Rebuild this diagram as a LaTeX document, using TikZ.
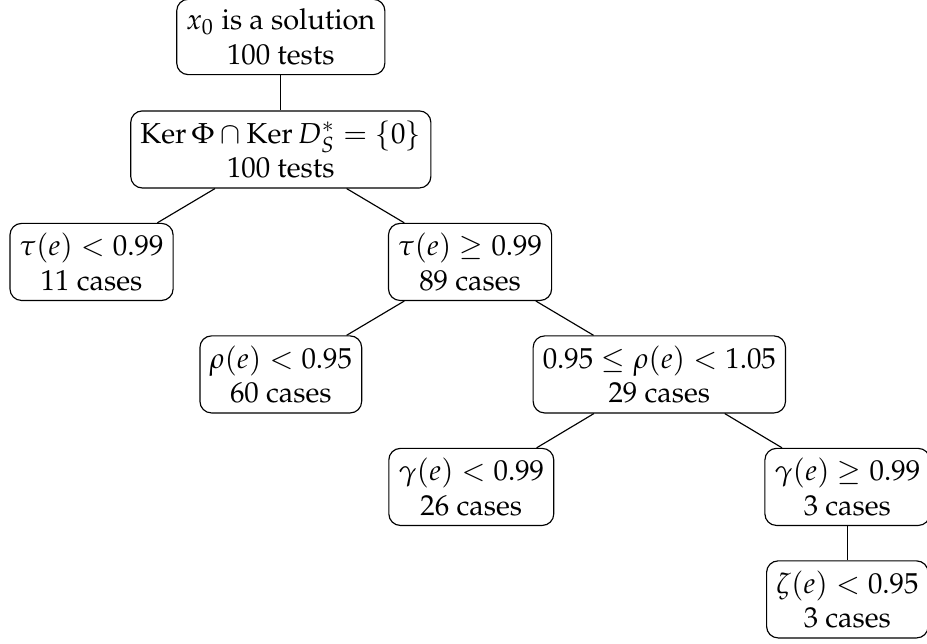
\documentclass[tikz,border=0pt]{standalone}
\usepackage[T1]{fontenc}
\usepackage{amssymb}
\usepackage{amsmath}
\usepackage{mathpazo}
\usetikzlibrary{positioning}

\begin{document}
\begin{tikzpicture}[node distance={1.37cm and 2.305cm}, on grid, main/.style = {draw, rectangle, rounded corners, align=center}]
    \useasboundingbox (-3.42,0.45) rectangle (7.87,-7.39);
    \node[main] (1) {$x_0$ is a solution\\100 tests};
    \node[main] (2) [below=of 1] {$\operatorname{Ker}\Phi \cap \operatorname{Ker} D_S^* = \{0\}$\\100 tests};
    \node[main] (3) [below left=of 2] {$\tau(e) < 0.99$\\11 cases};
    \node[main] (4) [below right=of 2] {$\tau(e) \geq 0.99$\\89 cases};
    \node[main] (5) [below left=of 4] {$\rho(e) < 0.95$\\60 cases};
    \node[main] (6) [below right=of 4] {$0.95 \leq \rho(e) < 1.05$\\29 cases};
    \node[main] (7) [below left=1.37cm and 2.29cm of 6] {$\gamma(e) < 0.99$\\26 cases};
    \node[main] (8) [below right=1.37cm and 2.29cm of 6] {$\gamma(e) \geq 0.99$\\3 cases};
    \node[main] (9) [below=of 8] {$\zeta(e) < 0.95$\\3 cases};
    \draw (1) -- (2);
    \draw (2) -- (3);
    \draw (2) -- (4);
    \draw (4) -- (5);
    \draw (4) -- (6);
    \draw (6) -- (7);
    \draw (6) -- (8);
    \draw (8) -- (9);
\end{tikzpicture}
\end{document}
